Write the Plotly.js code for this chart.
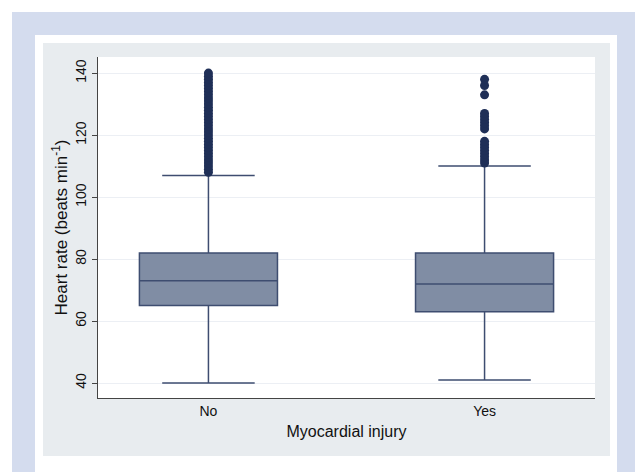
<!DOCTYPE html>
<html>
<head>
<meta charset="utf-8">
<script src="https://cdn.plot.ly/plotly-3.0.1.min.js"></script>
<style>html,body{margin:0;padding:0;background:#fff;}#chart{width:635px;height:472px;}</style>
</head>
<body>
<div id="chart"></div>
<script>
// Data
var categories = ['No', 'Yes'];
var q1Values = [65, 63];
var medianValues = [73, 72];
var q3Values = [82, 82];
var lowerWhisker = [40, 41];
var upperWhisker = [107, 110];
var noOutliers = [108, 109, 110, 111, 112, 113, 114, 115, 116, 117, 118, 119, 120, 121, 122, 123, 124, 125, 126, 127, 128, 129, 130, 131, 132, 133, 134, 135, 136, 137, 138, 139, 140];
var yesOutliers = [111, 112, 113, 114, 115, 116, 117, 118, 122, 123, 124, 125, 126, 127, 133, 136, 138];
var yTicks = [40, 60, 80, 100, 120, 140];

var boxTrace = {
  type: 'box',
  x: categories,
  q1: q1Values,
  median: medianValues,
  q3: q3Values,
  lowerfence: lowerWhisker,
  upperfence: upperWhisker,
  boxpoints: false,
  width: 0.5,
  whiskerwidth: 0.67,
  fillcolor: '#808da4',
  line: {color: '#3e4d70', width: 1.5},
  hoverinfo: 'skip',
  showlegend: false
};

function repeatCat(cat, arr) { return arr.map(function () { return cat; }); }

var outlierTrace = {
  type: 'scatter',
  mode: 'markers',
  x: repeatCat(categories[0], noOutliers).concat(repeatCat(categories[1], yesOutliers)),
  y: noOutliers.concat(yesOutliers),
  marker: {color: '#1f2f57', size: 9},
  hoverinfo: 'skip',
  showlegend: false
};

var L = 98, R = 595, T = 57, B = 398;
function px(x) { return (x - L) / (R - L); }
function py(y) { return (B - y) / (B - T); }

var layout = {
  width: 635,
  height: 472,
  margin: {l: L, r: 635 - R, t: T, b: 472 - B, pad: 0},
  paper_bgcolor: '#ffffff',
  plot_bgcolor: '#ffffff',
  font: {family: 'Liberation Sans, Arial, sans-serif', size: 14, color: '#111'},
  showlegend: false,
  shapes: [
    {type: 'rect', xref: 'paper', yref: 'paper', layer: 'below', x0: px(12), x1: px(640), y0: py(12), y1: py(480), fillcolor: '#d4dcee', line: {width: 0}},
    {type: 'rect', xref: 'paper', yref: 'paper', layer: 'below', x0: px(35), x1: px(617), y0: py(35), y1: py(480), fillcolor: '#ffffff', line: {width: 0}},
    {type: 'rect', xref: 'paper', yref: 'paper', layer: 'below', x0: px(43), x1: px(610), y0: py(43), y1: py(456), fillcolor: '#e8ecef', line: {width: 0}},
    {type: 'rect', xref: 'paper', yref: 'paper', layer: 'below', x0: 0, x1: 1, y0: 0, y1: 1, fillcolor: '#ffffff', line: {width: 0}}
  ],
  xaxis: {
    type: 'category',
    categoryorder: 'array',
    categoryarray: categories,
    range: [-0.4, 1.4],
    showgrid: false,
    zeroline: false,
    showline: true,
    linecolor: '#444',
    linewidth: 1,
    ticks: '',
    tickfont: {size: 14},
    title: {text: 'Myocardial injury', font: {size: 16}, standoff: 8}
  },
  yaxis: {
    range: [35.2, 145.2],
    tickvals: yTicks,
    ticktext: yTicks.map(String),
    tickangle: -90,
    ticks: 'outside',
    ticklen: 5,
    tickcolor: '#444',
    tickfont: {size: 14},
    showgrid: true,
    gridcolor: '#eceff4',
    gridwidth: 1,
    zeroline: false,
    showline: true,
    linecolor: '#444',
    linewidth: 1,
    title: {text: 'Heart rate (beats min<sup>-1</sup>)', font: {size: 17}, standoff: 1}
  }
};

Plotly.newPlot('chart', [boxTrace, outlierTrace], layout, {displayModeBar: false, staticPlot: true});
</script>
</body>
</html>
